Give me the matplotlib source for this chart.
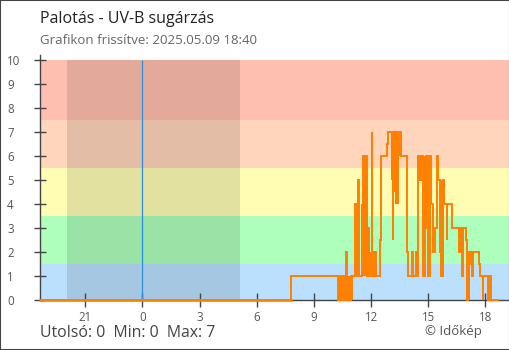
import numpy as np
import pandas as pd
import matplotlib
matplotlib.use('Agg')
import matplotlib.pyplot as plt
from matplotlib.patches import Rectangle

plt.rcParams['font.family'] = ['Open Sans', 'DejaVu Sans']

# UV-B readings (step changes), previous evening to now
uv_time = ['05-08 18:40', '05-09 07:48', '05-09 10:17', '05-09 10:19', '05-09 10:21',
           '05-09 10:25', '05-09 10:27', '05-09 10:36', '05-09 10:38', '05-09 10:40',
           '05-09 10:41', '05-09 10:43', '05-09 10:50', '05-09 10:52', '05-09 10:56',
           '05-09 10:59', '05-09 11:01', '05-09 11:09', '05-09 11:11', '05-09 11:12',
           '05-09 11:14', '05-09 11:16', '05-09 11:20', '05-09 11:22', '05-09 11:30',
           '05-09 11:32', '05-09 11:35', '05-09 11:37', '05-09 11:38', '05-09 11:40',
           '05-09 11:41', '05-09 11:43', '05-09 11:45', '05-09 11:48', '05-09 11:50',
           '05-09 11:52', '05-09 11:56', '05-09 11:58', '05-09 12:02', '05-09 12:03',
           '05-09 12:10', '05-09 12:12', '05-09 12:17', '05-09 12:28', '05-09 12:31',
           '05-09 12:50', '05-09 12:54', '05-09 13:05', '05-09 13:06', '05-09 13:08',
           '05-09 13:10', '05-09 13:15', '05-09 13:16', '05-09 13:17', '05-09 13:19',
           '05-09 13:20', '05-09 13:22', '05-09 13:24', '05-09 13:26', '05-09 13:30',
           '05-09 13:31', '05-09 13:34', '05-09 13:52', '05-09 13:57', '05-09 14:08',
           '05-09 14:12', '05-09 14:21', '05-09 14:24', '05-09 14:28', '05-09 14:31',
           '05-09 14:33', '05-09 14:35', '05-09 14:37', '05-09 14:44', '05-09 14:49',
           '05-09 14:51', '05-09 14:53', '05-09 14:55', '05-09 14:57', '05-09 15:00',
           '05-09 15:05', '05-09 15:07', '05-09 15:08', '05-09 15:10', '05-09 15:15',
           '05-09 15:21', '05-09 15:26', '05-09 15:29', '05-09 15:33', '05-09 15:37',
           '05-09 15:38', '05-09 15:40', '05-09 15:42', '05-09 15:43', '05-09 15:45',
           '05-09 15:46', '05-09 15:47', '05-09 15:49', '05-09 15:58', '05-09 15:59',
           '05-09 16:16', '05-09 16:38', '05-09 16:40', '05-09 16:47', '05-09 16:48',
           '05-09 16:58', '05-09 17:03', '05-09 17:04', '05-09 17:05', '05-09 17:06',
           '05-09 17:07', '05-09 17:08', '05-09 17:14', '05-09 17:16', '05-09 17:18',
           '05-09 17:20', '05-09 17:40', '05-09 17:43', '05-09 17:51', '05-09 17:52',
           '05-09 18:09', '05-09 18:10', '05-09 18:16', '05-09 18:40']
uv_value = [0, 1, 0, 1, 0,
            1, 0, 1, 0, 1,
            2, 0, 1, 0, 1,
            0, 1, 4, 3, 1,
            3, 1, 5, 1, 4,
            3, 6, 1, 6, 3,
            6, 1, 6, 1, 3,
            1, 2, 1, 7, 2,
            1, 2, 1, 2.5, 6,
            6.5, 7, 5, 7, 2.5,
            7, 4.5, 7, 4, 7,
            4.5, 7, 4, 7, 6,
            7, 6, 2, 1, 2,
            1, 2, 1, 6, 5,
            6, 5, 6, 1, 6,
            3, 6, 4, 6, 1,
            6, 4, 6, 4, 2,
            3, 6, 5, 5, 4.5,
            2, 1, 5, 1, 4,
            1, 5, 4, 2.5, 4,
            3, 2, 3, 1, 3,
            2.5, 0, 2, 0, 2,
            0, 2, 1.5, 2, 1,
            2, 1.5, 1, 0, 1,
            0, 1, 0, 0]

# UV index bands
band_edges = [0, 1.5, 3.5, 5.5, 7.5, 10]
band_colors = ['#bbe0fd', '#adffbb', '#fffdb3', '#ffd5bb', '#ffbfb0']

sunset = '05-08 20:03'
sunrise = '05-09 05:07'
x_start = '05-08 18:38'
x_end = '05-09 19:14'

tick_hours = [-3, 0, 3, 6, 9, 12, 15, 18]
tick_labels = ['21', '0', '3', '6', '9', '12', '15', '18']

midnight = pd.Timestamp('2025-05-09 00:00')


def to_hours(s):
    return (pd.to_datetime('2025-' + pd.Series(s)) - midnight).dt.total_seconds().values / 3600.0


t = to_hours(uv_time)
v = np.array(uv_value, dtype=float)

fig = plt.figure(figsize=(5.1, 3.5), dpi=100)
ax = fig.add_axes([40 / 510, 50 / 350, 469 / 510, 245 / 350])

x0, x1 = to_hours([x_start, x_end])
for lo, hi, c in zip(band_edges[:-1], band_edges[1:], band_colors):
    ax.fill_between([x0, x1], lo, hi, color=c, lw=0, zorder=0)

# night
n0, n1 = to_hours([sunset, sunrise])
ax.fill_between([n0, n1], 0, 10, color='black', alpha=0.11, lw=0, zorder=1)

ax.vlines(0, 0, 10, color='#2a8fe4', lw=0.9, zorder=2)

ax.plot(t, v, drawstyle='steps-post', color='#ff8000', lw=1.4, zorder=3,
        clip_on=False, solid_joinstyle='miter')
# baseline a bit heavier, as the zero stretch sits on the axis
ax.plot([x0, t[1]], [0, 0], color='#ff8000', lw=1.8, zorder=3, clip_on=False)

ax.set_xlim(x0, x1)
ax.set_ylim(0, 10.2)

for s in ['top', 'right']:
    ax.spines[s].set_visible(False)
for s in ['left', 'bottom']:
    ax.spines[s].set_color('#444444')
    ax.spines[s].set_linewidth(1.0)

ax.set_xticks(tick_hours)
ax.set_xticklabels(tick_labels)
ax.set_yticks(range(0, 11))
ax.tick_params(axis='x', direction='inout', length=9.4, width=1, color='#444444',
               labelsize=8.3, labelcolor='#555555', pad=3)
ax.tick_params(axis='y', direction='inout', length=8.6, width=1, color='#444444',
               labelsize=8.3, labelcolor='#555555', pad=19.4)
for lab in ax.get_yticklabels():
    lab.set_horizontalalignment('left')

fig.text(40 / 510, 1 - 19 / 350, 'Palotás - UV-B sugárzás', fontsize=11.5,
         color='#222222', va='center', ha='left')
fig.text(40 / 510, 1 - 41 / 350, 'Grafikon frissítve: 2025.05.09 18:40', fontsize=9.5,
         color='#666666', va='center', ha='left')
fig.text(40 / 510, 1 - 333 / 350, 'Utolsó: 0  Min: 0  Max: 7', fontsize=11.4,
         color='#444444', va='center', ha='left')
fig.text(482 / 510, 1 - 332 / 350, '© Időkép', fontsize=9.5,
         color='#555555', va='center', ha='right')

fig.patches.append(Rectangle((0, 0), 1, 1, transform=fig.transFigure, fill=False,
                             edgecolor='#444444', lw=1.5))

fig.savefig('out.png', dpi=100)
